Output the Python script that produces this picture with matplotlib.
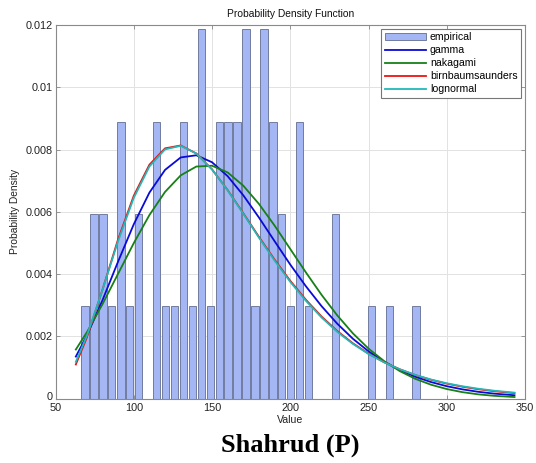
import matplotlib
matplotlib.use("Agg")
import matplotlib.pyplot as plt
from matplotlib.patches import Patch
from matplotlib.lines import Line2D
from matplotlib.transforms import ScaledTranslation

# Histogram of observed values (bin centres, counts per bin)
bin_centers = [68.9, 74.6, 80.3, 86.0, 91.8, 97.5, 103.2, 108.9, 114.6, 120.3,
               126.0, 131.8, 137.5, 143.2, 148.9, 154.6, 160.3, 166.0, 171.8, 177.5,
               183.2, 188.9, 194.6, 200.3, 206.0, 211.8, 217.5, 223.2, 228.9, 234.6,
               240.3, 246.0, 251.8, 257.5, 263.2, 268.9, 274.6, 280.3]
bin_counts = [1, 2, 2, 1, 3, 1, 2, 0, 3, 1,
              1, 3, 1, 4, 1, 3, 3, 3, 4, 1,
              4, 3, 2, 1, 3, 1, 0, 0, 2, 0,
              0, 0, 1, 0, 1, 0, 0, 1]
bin_width = 5.714
n_obs = 59

# Fitted density curves
x_fit = [63, 70, 80, 90, 100, 110, 120, 130, 140, 150, 160, 170, 180, 190, 200,
         210, 220, 230, 240, 250, 260, 270, 280, 290, 300, 310, 320, 330, 343.3]
gamma_pdf = [0.001347, 0.002013, 0.003155, 0.004401, 0.005596, 0.006614, 0.007345,
             0.007745, 0.007815, 0.007591, 0.007143, 0.006528, 0.005814, 0.005054,
             0.004303, 0.003606, 0.002967, 0.002405, 0.001921, 0.001517, 0.001183,
             0.000912, 0.000697, 0.000527, 0.000395, 0.000294, 0.000216, 0.000158,
             0.000104]
nakagami_pdf = [0.001574, 0.002125, 0.003028, 0.004009, 0.004991, 0.005893, 0.006638,
                0.007169, 0.007453, 0.007479, 0.007263, 0.006837, 0.006251, 0.005555,
                0.004804, 0.004051, 0.003331, 0.002673, 0.002094, 0.001604, 0.001201,
                0.000880, 0.000630, 0.000442, 0.000304, 0.000204, 0.000134, 0.000087,
                0.000047]
bs_pdf = [0.001093, 0.001954, 0.003492, 0.005118, 0.006513, 0.007511, 0.008038,
          0.008130, 0.007872, 0.007362, 0.006696, 0.005953, 0.005194, 0.004462,
          0.003783, 0.003172, 0.002634, 0.002170, 0.001774, 0.001442, 0.001166,
          0.000938, 0.000751, 0.000600, 0.000477, 0.000378, 0.000299, 0.000236,
          0.000172]
lognormal_pdf = [0.001180, 0.002009, 0.003486, 0.005058, 0.006445, 0.007453, 0.008004,
                 0.008118, 0.007871, 0.007361, 0.006688, 0.005936, 0.005168, 0.004430,
                 0.003748, 0.003138, 0.002604, 0.002144, 0.001756, 0.001430, 0.001160,
                 0.000939, 0.000757, 0.000609, 0.000489, 0.000393, 0.000315, 0.000252,
                 0.000188]

x_ticks = [50, 100, 150, 200, 250, 300, 350]
y_ticks = [0, 0.002, 0.004, 0.006, 0.008, 0.01, 0.012]
y_tick_labels = ["0", "0.002", "0.004", "0.006", "0.008", "0.01", "0.012"]

plt.rcParams["font.family"] = ["Liberation Sans", "DejaVu Sans"]

W, H = 536, 463
fig = plt.figure(figsize=(W / 100, H / 100), dpi=100)
ax = fig.add_axes([55.5 / W, 1 - 398.5 / H, (525 - 55.5) / W, (398.5 - 25) / H])

bar_face = "#a4b7f4"
bar_edge = "#717c9e"
density = [c / (n_obs * bin_width) for c in bin_counts]
bx = [x for x, d in zip(bin_centers, density) if d > 0]
bh = [d for d in density if d > 0]
ax.bar(bx, bh, width=bin_width * 0.81, color=bar_face, edgecolor=bar_edge,
       linewidth=0.7, zorder=2)

lw = 1.3
c_gamma, c_nak, c_bs, c_logn = "#0a0ad8", "#178017", "#ee1111", "#22b8b8"
ax.plot(x_fit, gamma_pdf, color=c_gamma, lw=lw, zorder=3)
ax.plot(x_fit, nakagami_pdf, color=c_nak, lw=lw, zorder=3)
ax.plot(x_fit, bs_pdf, color=c_bs, lw=lw, zorder=3)
ax.plot(x_fit, lognormal_pdf, color=c_logn, lw=lw, zorder=3)

ax.set_xlim(50, 350)
ax.set_ylim(0, 0.012)
ax.set_xticks(x_ticks)
ax.set_yticks(y_ticks)
ax.set_yticklabels(y_tick_labels)
ax.grid(True, color="#e2e2e2", linewidth=0.7, zorder=0)
ax.set_axisbelow(True)
ax.tick_params(direction="in", length=3, width=0.6, color="#888888",
               labelsize=7.8, labelcolor="#222222", top=True, right=True)
ax.tick_params(axis="x", pad=3)
ax.tick_params(axis="y", pad=2)
for s in ax.spines.values():
    s.set_color("#8a8a8a")
    s.set_linewidth(0.8)

# lift the "0" label on the y axis a little so it clears the "50" below it
ax.get_yticklabels()[0].set_transform(
    ax.get_yticklabels()[0].get_transform()
    + ScaledTranslation(0, 3 / 100, fig.dpi_scale_trans))

ax.set_title("Probability Density Function", fontsize=7.4, color="#111111", pad=6)
ax.set_xlabel("Value", fontsize=7.6, color="#222222", labelpad=2)
ax.set_ylabel("Probability Density", fontsize=7.4, color="#222222", labelpad=4)

handles = [
    Patch(facecolor=bar_face, edgecolor=bar_edge, linewidth=0.7),
    Line2D([], [], color=c_gamma, lw=lw),
    Line2D([], [], color=c_nak, lw=lw),
    Line2D([], [], color=c_bs, lw=lw),
    Line2D([], [], color=c_logn, lw=lw),
]
labels = ["empirical", "gamma", "nakagami", "birnbaumsaunders", "lognormal"]
leg = ax.legend(handles, labels, loc="upper right", fontsize=7.6, frameon=True,
                fancybox=False, framealpha=1, edgecolor="#777777",
                borderaxespad=0.35, handlelength=3.9, handletextpad=0.35,
                labelspacing=0.28, borderpad=0.35)
leg.get_frame().set_linewidth(0.8)

fig.text(290 / W, 1 - 445 / H, "Shahrud (P)", ha="center", va="center",
         fontsize=19, fontweight="bold", family=["Liberation Serif", "DejaVu Serif"])

fig.savefig("out.png", dpi=100)
